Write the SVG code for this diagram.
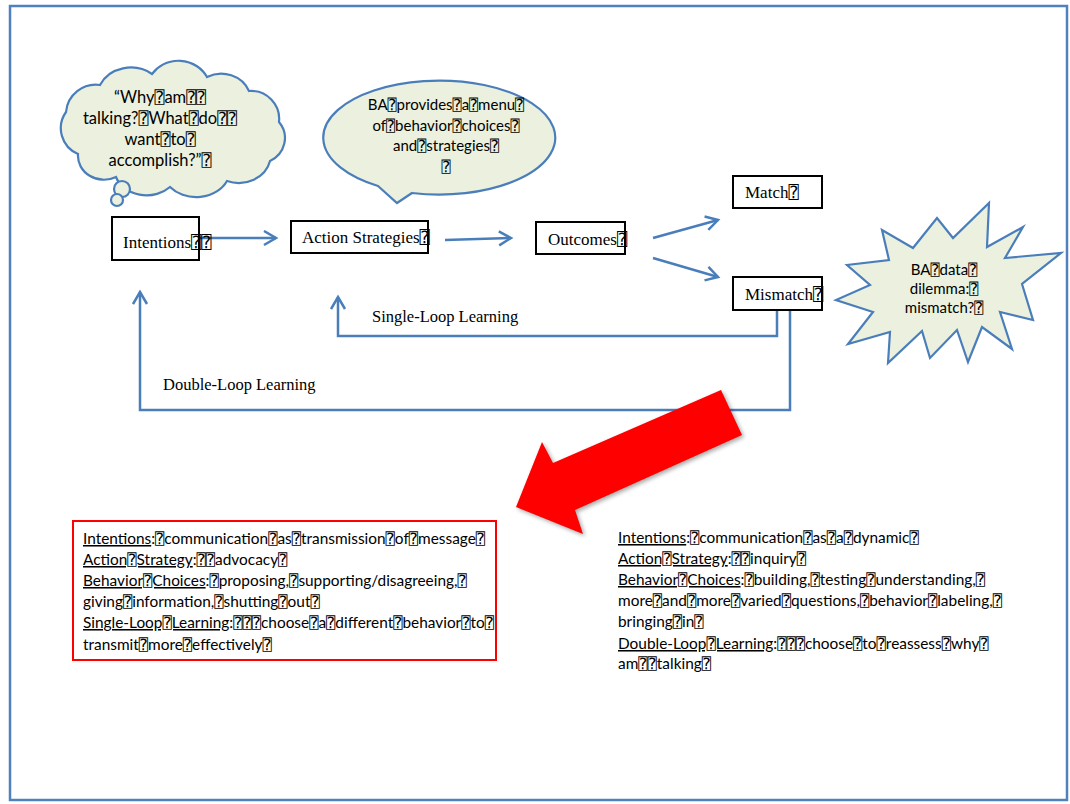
<svg xmlns="http://www.w3.org/2000/svg" width="1070" height="804" viewBox="0 0 1070 804">
<defs>
<style>
.frame{fill:#ffffff;stroke:#4f81bd;stroke-width:2.5}
.shape{fill:#ebf1de;stroke:#4a7ebb;stroke-width:2.2}
.box{fill:#ffffff;stroke:#000000;stroke-width:2}
.conn{fill:none;stroke:#4a7ebb;stroke-width:2.5}
.ser{font-family:"Liberation Serif","DejaVu Sans Mono",serif;font-size:17px;fill:#000}
.lbl{font-family:"Liberation Serif","DejaVu Sans Mono",serif;font-size:16.5px;fill:#000}
.sans{font-family:Lato,"DejaVu Sans Mono",sans-serif;font-size:15px;fill:#000}
.body{font-size:15.4px}
.big{font-size:16.5px}
.mid{text-anchor:middle}
.u{text-decoration:underline}
</style>
<marker id="ah" markerUnits="userSpaceOnUse" markerWidth="16" markerHeight="18" refX="13" refY="8" orient="auto">
<path d="M1,1 L13,8 L1,15" fill="none" stroke="#4a7ebb" stroke-width="2.5"/>
</marker>
</defs>
<rect class="frame" x="10" y="6" width="1057" height="794"/>

<g id="connectors">
<line class="conn" x1="200" y1="238" x2="276" y2="238" marker-end="url(#ah)"/>
<line class="conn" x1="445" y1="240" x2="511" y2="238" marker-end="url(#ah)"/>
<line class="conn" x1="653" y1="238" x2="718" y2="220" marker-end="url(#ah)"/>
<line class="conn" x1="653" y1="258" x2="718" y2="277" marker-end="url(#ah)"/>
<polyline class="conn" points="777,310 777,336 338,336 338,297" marker-end="url(#ah)"/>
<polyline class="conn" points="790,310 790,410 140,410 140,292" marker-end="url(#ah)"/>
<text class="lbl" x="372" y="322">Single-Loop Learning</text>
<text class="lbl" x="163" y="390">Double-Loop Learning</text>
</g>

<g id="cloud">
<path class="shape" d="M78,154 A28,28 0 0 1 66,112 A30,30 0 0 1 100,85 A34,30 0 0 1 152,74 A32,30 0 0 1 207,77 A30,28 0 0 1 249,91 A28,28 0 0 1 279,122 A28,26 0 0 1 270,161 A32,28 0 0 1 227,181 A34,28 0 0 1 170,187 A32,26 0 0 1 116,177 A26,24 0 0 1 78,154 Z"/>
<circle class="shape" cx="122" cy="189" r="8"/>
<circle class="shape" cx="117" cy="200" r="6"/>
<text class="sans big mid" x="160" y="103">“Why⍰am⍰⍰</text>
<text class="sans big mid" x="160" y="124">talking?⍰What⍰do⍰⍰</text>
<text class="sans big mid" x="160" y="145">want⍰to⍰</text>
<text class="sans big mid" x="160" y="166">accomplish?”⍰</text>
</g>

<g id="callout">
<path class="shape" d="M378,186 L397,203 L412,193 A116,57 0 1 0 378,186 Z"/>
<text class="sans mid" x="446" y="110">BA⍰provides⍰a⍰menu⍰</text>
<text class="sans mid" x="446" y="131">of⍰behavior⍰choices⍰</text>
<text class="sans mid" x="446" y="151">and⍰strategies⍰</text>
<text class="sans mid" x="446" y="172">⍰</text>
</g>

<g id="intentions">
<rect class="box" x="112" y="217" width="87" height="43"/>
<text class="ser" x="123" y="248">Intentions⍰⍰</text>
</g>
<g id="action-strategies">
<rect class="box" x="291" y="221" width="137" height="32"/>
<text class="ser" x="302" y="243">Action Strategies⍰</text>
</g>
<g id="outcomes">
<rect class="box" x="536" y="222" width="89" height="32"/>
<text class="ser" x="548" y="245">Outcomes⍰</text>
</g>
<g id="match">
<rect class="box" x="733" y="176" width="89" height="32"/>
<text class="ser" x="745" y="198">Match⍰</text>
</g>
<g id="mismatch">
<rect class="box" x="733" y="277" width="89" height="33"/>
<text class="ser" x="745" y="300">Mismatch⍰</text>
</g>

<g id="dilemma">
<polygon class="shape" points="989,203 987,247 1023,227 1005,258 1061,253 1022,284 1033,320 1000,312 1012,349 982,327 968,362 957,330 930,358 922,331 888,363 890,332 848,344 873,312 836,300 870,285 847,265 889,260 882,230 913,248 937,218 953,238"/>
<text class="sans mid" x="944" y="275">BA⍰data⍰</text>
<text class="sans mid" x="944" y="294">dilemma:⍰</text>
<text class="sans mid" x="944" y="313">mismatch?⍰</text>
</g>

<g id="big-arrow">
<polygon points="721,390 742,435 575,510 583,534 516,507 542,442 553,463" fill="#ff0000" style="filter:drop-shadow(2px 2px 2px rgba(0,0,0,0.35))"/>
</g>

<g id="single-loop-box">
<rect x="73" y="521" width="423" height="139" fill="#ffffff" stroke="#ff0000" stroke-width="2"/>
<text class="sans body" x="83" y="544"><tspan class="u">Intentions</tspan>:⍰communication⍰as⍰transmission⍰of⍰message⍰</text>
<text class="sans body" x="83" y="565"><tspan class="u">Action⍰Strategy</tspan>:⍰⍰advocacy⍰</text>
<text class="sans body" x="83" y="586"><tspan class="u">Behavior⍰Choices</tspan>:⍰proposing,⍰supporting/disagreeing,⍰</text>
<text class="sans body" x="83" y="607">giving⍰information,⍰shutting⍰out⍰</text>
<text class="sans body" x="83" y="628"><tspan class="u">Single-Loop⍰Learning</tspan>:⍰⍰⍰choose⍰a⍰different⍰behavior⍰to⍰</text>
<text class="sans body" x="83" y="650">transmit⍰more⍰effectively⍰</text>
</g>

<g id="double-loop-text">
<text class="sans body" x="618" y="543"><tspan class="u">Intentions</tspan>:⍰communication⍰as⍰a⍰dynamic⍰</text>
<text class="sans body" x="618" y="564"><tspan class="u">Action⍰Strategy</tspan>:⍰⍰inquiry⍰</text>
<text class="sans body" x="618" y="585"><tspan class="u">Behavior⍰Choices</tspan>:⍰building,⍰testing⍰understanding,⍰</text>
<text class="sans body" x="618" y="606">more⍰and⍰more⍰varied⍰questions,⍰behavior⍰labeling,⍰</text>
<text class="sans body" x="618" y="627">bringing⍰in⍰</text>
<text class="sans body" x="618" y="649"><tspan class="u">Double-Loop⍰Learning</tspan>:⍰⍰⍰choose⍰to⍰reassess⍰why⍰</text>
<text class="sans body" x="618" y="669">am⍰⍰talking⍰</text>
</g>
</svg>
